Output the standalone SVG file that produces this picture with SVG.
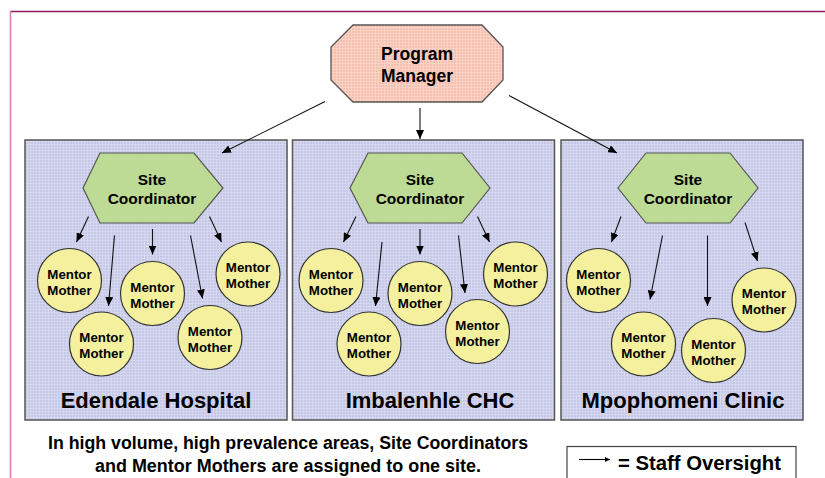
<svg xmlns="http://www.w3.org/2000/svg" width="825" height="478" viewBox="0 0 825 478">
<style>
text{font-family:"Liberation Sans",Arial,sans-serif;font-weight:bold;fill:#000;text-anchor:middle}
.box{fill:url(#lav);stroke:#555;stroke-width:1.5}
.sc{fill:#bddb94;stroke:#555;stroke-width:1.2}
.mm{fill:#f4f09e;stroke:#333;stroke-width:1.2}
.mmt{font-size:13.3px}
.sct{font-size:15.5px}
.site{font-size:22px}
.con line{stroke:#111;stroke-width:1.1;marker-end:url(#ah)}
</style>
<defs>
<pattern id="lav" width="3" height="3" patternUnits="userSpaceOnUse">
<rect width="3" height="3" fill="#c4c7e6"/>
<rect width="3" height="1" fill="#d5d7ef"/>
<rect width="1" height="3" fill="#d5d7ef"/>
</pattern>
<pattern id="pink" width="3" height="3" patternUnits="userSpaceOnUse">
<rect width="3" height="3" fill="#f6bead"/>
<rect width="3" height="1" fill="#fbd3c6"/>
<rect width="1" height="3" fill="#fbd3c6"/>
</pattern>
<marker id="ah" markerUnits="userSpaceOnUse" markerWidth="10" markerHeight="8" refX="9" refY="4" orient="auto">
<path d="M0,0 L9,4 L0,8 Z" fill="#000"/>
</marker>
<marker id="ahs" markerUnits="userSpaceOnUse" markerWidth="6" markerHeight="5" refX="5" refY="2.5" orient="auto">
<path d="M0,0 L5,2.5 L0,5 Z" fill="#000"/>
</marker>
</defs>
<rect width="825" height="478" fill="#fff"/>
<line x1="10" y1="11.5" x2="825" y2="11.5" stroke="#8e1a5c" stroke-width="1.5"/>
<line x1="10.5" y1="11" x2="10.5" y2="478" stroke="#d47ab8" stroke-width="1.5"/>

<g id="box-edendale"><rect class="box" x="25" y="140" width="262" height="280"/><text class="site" x="156" y="408">Edendale Hospital</text></g>
<g id="box-imbalenhle"><rect class="box" x="292.5" y="140" width="262" height="280"/><text class="site" x="430" y="408">Imbalenhle CHC</text></g>
<g id="box-mpophomeni"><rect class="box" x="561" y="140" width="242" height="280"/><text class="site" x="683" y="408">Mpophomeni Clinic</text></g>

<g id="program-manager">
<polygon points="353,25 482,25 503,47 503,80 482,102 353,102 331,80 331,47" fill="url(#pink)" stroke="#555" stroke-width="1.3"/>
<text x="417" y="60" font-size="17.5">Program</text>
<text x="417" y="81.5" font-size="17.5">Manager</text>
</g>

<g id="sc-edendale"><polygon class="sc" points="83,188 100,153 194,153 223,188 194,223 100,223"/><text class="sct" x="152" y="185">Site</text><text class="sct" x="152" y="204">Coordinator</text></g>
<g id="sc-imbalenhle"><polygon class="sc" points="350,188 368,153 462,153 490,188 462,223 368,223"/><text class="sct" x="420" y="185">Site</text><text class="sct" x="420" y="204">Coordinator</text></g>
<g id="sc-mpophomeni"><polygon class="sc" points="618,188 646,153 730,153 758,188 730,223 646,223"/><text class="sct" x="688" y="185">Site</text><text class="sct" x="688" y="204">Coordinator</text></g>

<g id="mm-e1"><circle class="mm" cx="69.5" cy="280.5" r="32"/><text class="mmt" x="69.5" y="278.5">Mentor</text><text class="mmt" x="69.5" y="294.5">Mother</text></g>
<g id="mm-e2"><circle class="mm" cx="101.5" cy="344" r="32"/><text class="mmt" x="101.5" y="342">Mentor</text><text class="mmt" x="101.5" y="358">Mother</text></g>
<g id="mm-e3"><circle class="mm" cx="152.5" cy="293.5" r="32"/><text class="mmt" x="152.5" y="291.5">Mentor</text><text class="mmt" x="152.5" y="307.5">Mother</text></g>
<g id="mm-e4"><circle class="mm" cx="210" cy="337.5" r="32"/><text class="mmt" x="210" y="335.5">Mentor</text><text class="mmt" x="210" y="351.5">Mother</text></g>
<g id="mm-e5"><circle class="mm" cx="248" cy="274" r="32"/><text class="mmt" x="248" y="272">Mentor</text><text class="mmt" x="248" y="288">Mother</text></g>

<g id="mm-i1"><circle class="mm" cx="331" cy="280.5" r="32"/><text class="mmt" x="331" y="278.5">Mentor</text><text class="mmt" x="331" y="294.5">Mother</text></g>
<g id="mm-i2"><circle class="mm" cx="369" cy="344" r="32"/><text class="mmt" x="369" y="342">Mentor</text><text class="mmt" x="369" y="358">Mother</text></g>
<g id="mm-i3"><circle class="mm" cx="420" cy="293.5" r="32"/><text class="mmt" x="420" y="291.5">Mentor</text><text class="mmt" x="420" y="307.5">Mother</text></g>
<g id="mm-i4"><circle class="mm" cx="477.5" cy="331.5" r="32"/><text class="mmt" x="477.5" y="329.5">Mentor</text><text class="mmt" x="477.5" y="345.5">Mother</text></g>
<g id="mm-i5"><circle class="mm" cx="515.5" cy="274" r="32"/><text class="mmt" x="515.5" y="272">Mentor</text><text class="mmt" x="515.5" y="288">Mother</text></g>

<g id="mm-m1"><circle class="mm" cx="598.5" cy="280.5" r="32"/><text class="mmt" x="598.5" y="278.5">Mentor</text><text class="mmt" x="598.5" y="294.5">Mother</text></g>
<g id="mm-m2"><circle class="mm" cx="643.5" cy="344" r="32"/><text class="mmt" x="643.5" y="342">Mentor</text><text class="mmt" x="643.5" y="358">Mother</text></g>
<g id="mm-m3"><circle class="mm" cx="713.5" cy="350.5" r="32"/><text class="mmt" x="713.5" y="348.5">Mentor</text><text class="mmt" x="713.5" y="364.5">Mother</text></g>
<g id="mm-m4"><circle class="mm" cx="764" cy="300" r="32"/><text class="mmt" x="764" y="298">Mentor</text><text class="mmt" x="764" y="314">Mother</text></g>

<g id="connectors" class="con">
<line x1="325" y1="101.5" x2="222" y2="153"/>
<line x1="420" y1="108" x2="420" y2="139"/>
<line x1="509" y1="95.5" x2="617" y2="153"/>

<line x1="88.5" y1="216.5" x2="76.5" y2="242"/>
<line x1="114.5" y1="235.5" x2="108.5" y2="306"/>
<line x1="152.5" y1="229" x2="152.5" y2="254.5"/>
<line x1="190.5" y1="235.5" x2="202.5" y2="298.5"/>
<line x1="209.5" y1="216.5" x2="221.5" y2="242"/>

<line x1="356" y1="216.5" x2="343.5" y2="242"/>
<line x1="382" y1="242" x2="375.5" y2="306"/>
<line x1="420" y1="229" x2="420" y2="254.5"/>
<line x1="458.5" y1="235.5" x2="465" y2="293"/>
<line x1="477.5" y1="216.5" x2="489.5" y2="242"/>

<line x1="621" y1="216.5" x2="611.5" y2="242"/>
<line x1="662.5" y1="235.5" x2="650" y2="299.5"/>
<line x1="707.5" y1="235.5" x2="707.5" y2="306"/>
<line x1="745" y1="222.5" x2="757.5" y2="261"/>
</g>

<g id="note">
<text x="288" y="449" font-size="17.5" textLength="480" lengthAdjust="spacingAndGlyphs">In high volume, high prevalence areas, Site Coordinators</text>
<text x="288" y="471.5" font-size="17.5" textLength="386" lengthAdjust="spacingAndGlyphs">and Mentor Mothers are assigned to one site.</text>
</g>

<g id="legend">
<rect x="567" y="446.5" width="229" height="40" fill="#fff" stroke="#444" stroke-width="1.2"/>
<line x1="579" y1="459.5" x2="610" y2="459.5" stroke="#000" stroke-width="1.1" marker-end="url(#ahs)"/>
<text x="699.5" y="469.5" font-size="20" textLength="163" lengthAdjust="spacingAndGlyphs">= Staff Oversight</text>
</g>
</svg>
